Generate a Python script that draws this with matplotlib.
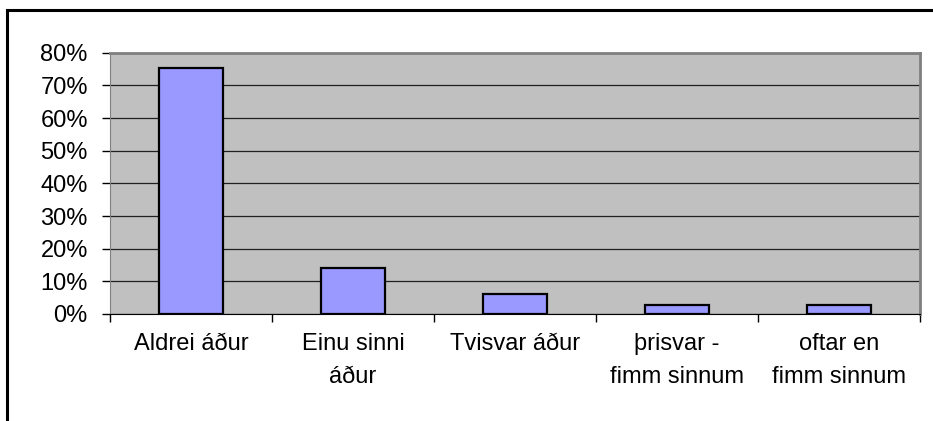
import matplotlib.pyplot as plt
from matplotlib.patches import Rectangle
from matplotlib.ticker import MultipleLocator, FuncFormatter

categories = ['Aldrei áður', 'Einu sinni\náður', 'Tvisvar áður', 'þrisvar -\nfimm sinnum', 'oftar en\nfimm sinnum']
values = [0.754, 0.14, 0.061, 0.027, 0.027]

plt.rcParams['font.family'] = ['Liberation Sans', 'DejaVu Sans']

W, H = 933, 421
fig = plt.figure(figsize=(W / 100, H / 100), dpi=100)

# outer chart frame (only left and top edges show)
fig.patches.append(Rectangle((7 / W, -0.1), 1.2, 1 - 10 / H + 0.1, transform=fig.transFigure,
                             fill=False, edgecolor='black', linewidth=2.2))

ax = fig.add_axes([110 / W, 1 - 314 / H, (920 - 110) / W, (314 - 52.7) / H])
ax.set_facecolor('#c0c0c0')

x = range(len(categories))
ax.bar(x, values, width=0.4, color='#9999ff', edgecolor='black', linewidth=1.6, zorder=3)

ax.set_xlim(-0.5, len(categories) - 0.5)
ax.set_ylim(0, 0.8)
ax.yaxis.set_major_locator(MultipleLocator(0.1))
ax.yaxis.set_major_formatter(FuncFormatter(lambda v, p: '%d%%' % round(v * 100)))
ax.grid(axis='y', color='#202020', linewidth=0.9, zorder=1)
ax.set_axisbelow(True)

ax.set_xticks([i + 0.5 for i in range(-1, len(categories))])
ax.set_xticklabels([])
ax.set_xticks(list(x), minor=True)
ax.set_xticklabels(categories, minor=True, fontsize=17, linespacing=1.6)
ax.tick_params(axis='x', which='major', direction='out', length=6, width=1, color='black')
ax.tick_params(axis='x', which='minor', length=0, pad=14)
ax.tick_params(axis='y', direction='out', length=6, width=1, labelsize=17, pad=10)

for s in ['top', 'right']:
    ax.spines[s].set_color('#808080')
    ax.spines[s].set_linewidth(2)
ax.spines['left'].set_color('#808080')
ax.spines['bottom'].set_color('black')

fig.savefig('out.png', dpi=100)
